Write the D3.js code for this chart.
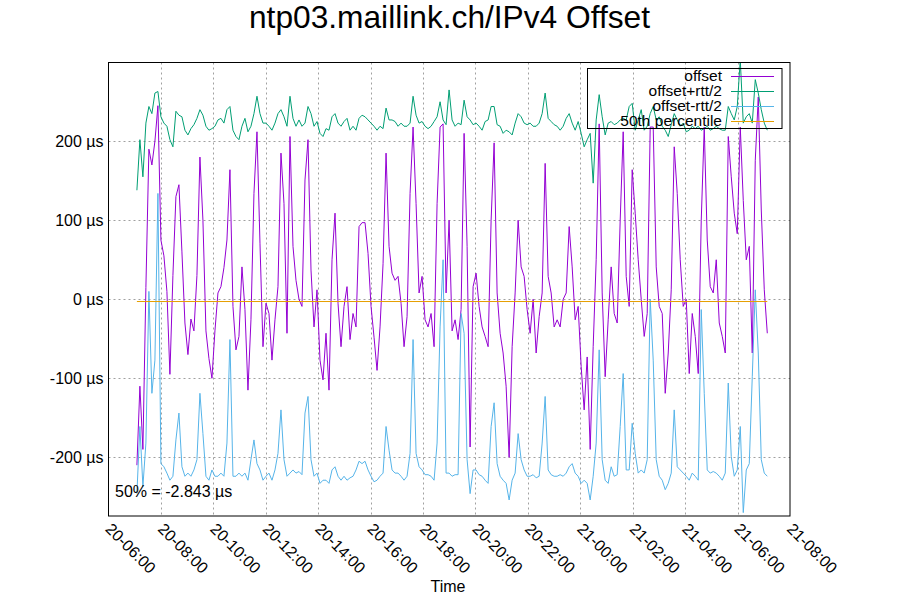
<!DOCTYPE html>
<html><head><meta charset="utf-8">
<script src="https://cdn.jsdelivr.net/npm/d3@7"></script>
<style>body{margin:0;background:#fff} text{font-family:"Liberation Sans",Arial,sans-serif;fill:#000}</style>
</head><body><svg id="c" width="900" height="600"></svg>
<script>
const chartTitle = "ntp03.maillink.ch/IPv4 Offset";
const xLabel = "Time";
const timeDomain = ["2000-01-20 06:00", "2000-01-21 08:00"];
const sampleStart = "2000-01-20 07:05";
const sampleEnd = "2000-01-21 07:08";
const yDomain = [-274.3, 299.7];
const yTicks = [-200, -100, 0, 100, 200];
const percentile50 = -2.843;
const seriesNames = ["offset", "offset+rtt/2", "offset-rtt/2", "50th percentile"];

const offset = [
-210,-110,-190,15,190,170,200,245,75,55,10,-95,30,130,145,60,-30,-70,-25,-40,30,180,100,-40,-75,-100,-40,
8,16,40,75,164,-9,-64,-47,41,-13,-115,-26,134,212,71,-60,-5,-18,-77,-26,16,185,121,-43,206,67,
24,0,-9,151,202,37,-35,12,-77,-102,-43,-115,50,109,-5,-60,-9,16,-51,-18,-35,92,97,97,58,-9,-48,
-90,-35,45,185,67,33,24,29,-5,-60,-22,134,218,121,8,29,-26,-35,-18,-60,121,218,222,8,100,-40,-26,
-51,-13,210,67,-187,16,33,-9,-35,-47,-60,100,198,8,-43,-68,-110,-200,-60,8,100,41,29,-13,-43,0,
-68,-22,8,172,29,8,-35,-26,-35,0,8,92,41,-26,-9,-85,-140,-73,-190,-60,50,222,8,-98,-26,41,-18,
-30,100,212,29,-9,164,109,50,0,-47,-18,218,218,41,-9,-18,-119,-68,12,193,134,50,-9,0,-94,-18,-47,
-94,100,218,75,16,8,50,-30,-47,-68,206,155,109,83,218,125,50,67,-68,176,256,113,12,-43
];
const offsetPlusRtt = [
138,202,155,223,244,235,261,263,231,223,219,202,193,238,233,231,214,208,216,221,229,240,233,219,214,216,219,
227,229,223,240,244,214,206,202,219,229,212,219,235,257,235,223,223,219,214,223,235,240,231,219,257,229,
219,227,219,223,244,235,219,225,210,206,216,214,231,235,223,219,225,229,214,219,214,229,233,231,227,223,219,
214,219,216,242,227,227,225,219,223,219,219,223,257,233,223,225,219,216,219,225,231,250,227,221,265,227,219,
223,221,252,231,227,221,223,219,214,225,227,244,244,221,219,210,214,212,208,223,235,231,223,221,223,219,
219,223,235,261,229,225,221,219,214,219,229,235,223,214,225,210,193,202,210,147,227,259,231,208,223,225,221,
223,227,229,227,244,248,214,227,240,214,219,235,244,227,231,219,214,206,221,235,227,219,223,212,214,219,216,
219,214,216,219,214,216,219,216,214,214,244,235,227,244,303,223,231,235,223,278,261,240,223,214
];
const offsetMinusRtt = [
-246,-161,-237,-182,10,-119,-77,134,-208,-212,-220,-229,-224,-178,-144,-212,-224,-220,-224,-216,-203,-119,-170,-224,-229,-216,-224,
-224,-220,-224,-182,-51,-224,-224,-220,-224,-220,-229,-203,-178,-208,-216,-229,-224,-220,-229,-216,-195,-140,-203,-224,-220,-216,
-220,-218,-222,-144,-123,-203,-224,-220,-233,-229,-229,-233,-216,-212,-224,-229,-224,-229,-226,-224,-216,-205,-208,-205,-216,-224,-231,
-229,-224,-220,-161,-191,-216,-220,-220,-224,-229,-224,-195,-51,-195,-212,-216,-222,-222,-224,-229,-182,-35,50,-220,-220,-224,-222,
-222,-18,-43,-203,-246,-216,-216,-222,-224,-229,-233,-161,-131,-208,-224,-229,-233,-254,-229,-220,-170,-203,-216,-224,-224,-222,
-226,-224,-182,-123,-216,-222,-224,-224,-222,-224,-220,-212,-208,-220,-224,-233,-229,-233,-254,-224,-182,-64,-203,-229,-233,-212,-224,
-222,-161,-94,-216,-216,-157,-195,-220,-216,-220,-203,0,-77,-203,-224,-229,-241,-233,-220,-140,-212,-216,-220,-224,-229,-220,-224,
-229,-13,-119,-216,-220,-218,-220,-224,-229,-220,-106,-199,-224,-216,-161,-270,-216,-208,-98,12,-68,-203,-220,-224
];

const colors = ["#9400d3", "#009e73", "#56b4e9", "#e69f00"];

const W = 900, H = 600;
const m = {left: 108.5, right: 790, top: 62.5, bottom: 516};
const parse = d3.timeParse("%Y-%m-%d %H:%M");
const svg = d3.select("#c");
svg.append("rect").attr("width", W).attr("height", H).attr("fill", "#fff");

const x = d3.scaleTime().domain(timeDomain.map(parse)).range([m.left, m.right]);
const y = d3.scaleLinear().domain(yDomain).range([m.bottom, m.top]);

const s0 = parse(sampleStart), s1 = parse(sampleEnd);
const n = offset.length;
const times = d3.range(n).map(i => new Date(+s0 + i * (s1 - s0) / (n - 1)));

// grid
const xt = x.ticks(d3.timeHour.every(2));
const grid = svg.append("g").attr("stroke", "#a0a0a0").attr("stroke-dasharray", "2,3").attr("stroke-width", 1);
xt.forEach(t => {
  const px = Math.round(x(t)) + 0.5;
  if (px > m.left + 1 && px < m.right - 1)
    grid.append("line").attr("x1", px).attr("x2", px).attr("y1", m.top).attr("y2", m.bottom);
});
yTicks.forEach(v => {
  const py = Math.round(y(v)) + 0.5;
  grid.append("line").attr("x1", m.left).attr("x2", m.right).attr("y1", py).attr("y2", py);
});

// axes labels
const xAxis = d3.axisBottom(x).tickValues(xt).tickFormat(d3.timeFormat("%d-%H:%M")).tickSize(0);
const gx = svg.append("g").attr("transform", `translate(0,${m.bottom})`).call(xAxis);
gx.select(".domain").remove();
gx.selectAll(".tick text")
  .attr("font-size", 16).attr("font-family", "Liberation Sans, Arial, sans-serif")
  .attr("text-anchor", "start").attr("y", 0).attr("dy", 0)
  .attr("transform", "translate(-4.5,14) rotate(45)");

const yAxis = d3.axisLeft(y).tickValues(yTicks).tickFormat(d => d + " µs").tickSize(0);
const gy = svg.append("g").attr("transform", `translate(${m.left},0)`).call(yAxis);
gy.select(".domain").remove();
gy.selectAll(".tick text").attr("font-size", 16).attr("font-family", "Liberation Sans, Arial, sans-serif").attr("x", -5).attr("dy", "0.35em");

// clip
svg.append("clipPath").attr("id", "clip").append("rect")
  .attr("x", m.left).attr("y", m.top).attr("width", m.right - m.left).attr("height", m.bottom - m.top);
const plot = svg.append("g").attr("clip-path", "url(#clip)");

const line = d3.line().x((d, i) => x(times[i])).y(d => y(d));
[offset, offsetPlusRtt, offsetMinusRtt].forEach((arr, k) => {
  plot.append("path").datum(arr).attr("d", line).attr("fill", "none")
    .attr("stroke", colors[k]).attr("stroke-width", 1);
});
plot.append("line").attr("x1", x(s0)).attr("x2", x(s1))
  .attr("y1", y(percentile50)).attr("y2", y(percentile50))
  .attr("stroke", colors[3]).attr("stroke-width", 1);

// frame
svg.append("rect").attr("x", m.left).attr("y", m.top).attr("width", m.right - m.left).attr("height", m.bottom - m.top)
  .attr("fill", "none").attr("stroke", "#000").attr("stroke-width", 1);

// legend
const lg = svg.append("g");
lg.append("rect").attr("x", 587.5).attr("y", 68.5).attr("width", 194.5).attr("height", 60)
  .attr("fill", "none").attr("stroke", "#000").attr("stroke-width", 1);
seriesNames.forEach((name, i) => {
  const yy = 76.5 + i * 15;
  lg.append("text").attr("x", 722).attr("y", yy + 4).attr("text-anchor", "end").attr("font-size", 15.5).text(name);
  lg.append("line").attr("x1", 731).attr("x2", 774).attr("y1", yy).attr("y2", yy)
    .attr("stroke", colors[i]).attr("stroke-width", 1);
});

// title & labels
svg.append("text").attr("x", 449.5).attr("y", 28).attr("text-anchor", "middle").attr("font-size", 31.7).text(chartTitle);
svg.append("text").attr("x", 448).attr("y", 592).attr("text-anchor", "middle").attr("font-size", 16).text(xLabel);
svg.append("text").attr("x", 115).attr("y", 497).attr("font-size", 16).text("50% = " + percentile50 + " µs");
</script></body></html>
